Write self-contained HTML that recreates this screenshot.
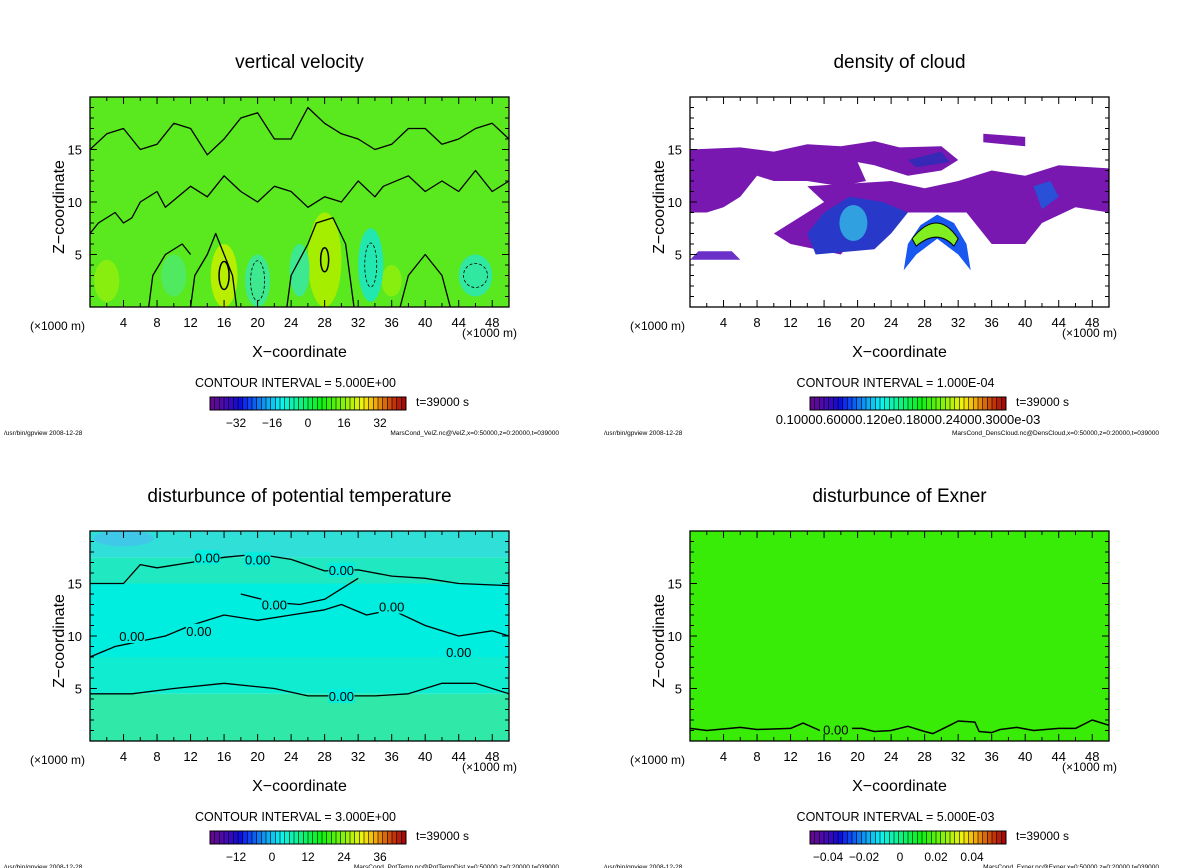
<!DOCTYPE html>
<html><head><meta charset="utf-8"><style>
html,body{margin:0;padding:0;background:#fff;}
svg{display:block;font-family:"Liberation Sans","DejaVu Sans",sans-serif;}
</style></head><body>
<svg id="fig" width="1200" height="868" viewBox="0 0 1200 868" xmlns="http://www.w3.org/2000/svg"></svg>
<script>
// ---- data ----
const xTickLabels = [4,8,12,16,20,24,28,32,36,40,44,48];
const zTickLabels = [5,10,15];
const panelTitles = ["vertical velocity","density of cloud","disturbunce of potential temperature","disturbunce of Exner"];
const contourIntervals = ["5.000E+00","1.000E-04","3.000E+00","5.000E-03"];
const cbLabelsVelZ = ["-32","-16","0","16","32"];
const cbLabelsPotT = ["-12","0","12","24","36"];
const cbLabelsExner = ["-0.04","-0.02","0","0.02","0.04"];
const footers = ["MarsCond_VelZ.nc@VelZ,x=0:50000,z=0:20000,t=039000","MarsCond_DensCloud.nc@DensCloud,x=0:50000,z=0:20000,t=039000","MarsCond_PotTemp.nc@PotTempDist,x=0:50000,z=0:20000,t=039000","MarsCond_Exner.nc@Exner,x=0:50000,z=0:20000,t=039000"];
// blobs: [x(km), z(km), rx, rz, color]
const velBlobs = [[16,3,1.6,3,"#b8ee00"],[28,4.5,2,4.5,"#a6ee00"],[2,2.5,1.5,2,"#88ee10"],[36,2.5,1.2,1.5,"#88ee10"],[20,2.5,1.5,2.5,"#3ee890"],[25,3.5,1.2,2.5,"#3ee890"],[33.5,4,1.5,3.5,"#22e8b0"],[46,3,2,2,"#30e8a0"],[10,3,1.5,2,"#50ea60"]];
const velContour1 = [[0,7],[1,8],[3,9],[4,8],[5,8.5],[6,10],[8,11],[9,9.5],[12,11.5],[14,10.5],[16,12.5],[18,11],[20,10],[22,11.5],[24,11],[26,9.5],[28,10.5],[30,10],[32,12],[34,10.5],[35,11.5],[38,12.5],[40,11],[42,12],[44,11],[46,13],[48,11],[50,12]];
const velContour2 = [[0,15],[2,16.5],[4,17],[6,15],[8,15.5],[10,17.5],[12,17],[14,14.5],[16,16],[18,18],[20,18.5],[22,16],[24,16],[26,19],[28,17.5],[30,16.5],[32,16],[34,15],[36,15.5],[38,17],[40,17],[42,15.5],[44,16],[46,17],[48,17.5],[50,16]];
const velContour3 = [[12,0],[12.5,3],[14,5],[15,7],[16,5],[17,3],[17.5,0]];
const velContour4 = [[23.5,0],[24,3],[26,6],[27,8],[29,8.5],[30.5,6],[31,3],[31.5,0]];
const velContour5 = [[7,0],[7.5,3],[9,5],[11,6],[12,5]];
const velContour6 = [[37,0],[38,3],[40,5],[42,3],[43,0]];
const cloudPurple = [[0,15],[6,15.2],[10,14.8],[14,15.5],[18,15.3],[22,15.8],[25,15.2],[30,15.3],[32,14],[30,13],[26,12.5],[22,13.5],[20,13.8],[21,12],[18,11.5],[14,12],[10,12],[8,12.5],[6,10.5],[4,9.5],[2,9],[0,9]];
const cloudPurple2 = [[14,11.5],[20,11.8],[24,12],[28,11.3],[32,12],[36,13],[40,12.5],[44,13.5],[50,13.2],[50,9],[46,9.5],[42,8],[40,6],[36,6],[33,9],[30,9],[24,9],[20,7],[18,5],[12,6],[10,7],[14,9],[16,10]];
const cloudBlue = [[16,9],[19,10.5],[23,10],[26,9],[24,7],[22,5.5],[15,5],[14,7]];
const cloudStrip = [[0,4.5],[1,5.3],[5,5.3],[6,4.5]];
const cloudTop = [[35,16.5],[40,16.2],[40,15.3],[35,15.7]];
const cloudDark = [[26,14],[30,14.8],[31,13.8],[27,13.3]];
const cloudBlob2 = [[41,11.5],[43,12],[44,10.5],[42,9.3]];
const cloudArc = [[25.5,3.5],[26,6],[27.5,7.8],[29.5,8.8],[31.5,8],[33,6],[33.5,3.5],[32,5],[29.5,6.5],[27,5]];
const ptBands = [[0,4.5,"#30e8a8"],[4.5,8,"#10ecd0"],[8,15,"#00eee0"],[15,17.5,"#20e8c0"],[17.5,20,"#30e0d8"]];
const ptContour1 = [[0,15],[4,15],[6,16.8],[8,16.5],[12,17],[16,17.5],[20,17.8],[24,17.3],[28,16.2],[32,16.3],[36,15.7],[40,15.5],[44,15],[50,14.8]];
const ptContour2 = [[0,8],[3,9],[6,9.5],[9,10],[12,11],[16,12],[20,11.5],[24,12],[28,12.5],[30,13],[33,12],[36,12.5],[40,11],[44,10],[48,10.5],[50,10]];
const ptContour3 = [[0,4.5],[5,4.5],[10,5],[16,5.5],[22,5],[26,4.3],[30,4.3],[34,4.3],[38,4.5],[42,5.5],[46,5.5],[50,4.5]];
const ptContour4 = [[18,14],[22,13.2],[25,13],[28,13.5],[32,15.5]];
const exnerContour = [[0,1.2],[2,1.0],[6,1.3],[8,1.1],[12,1.2],[13.5,1.7],[15.5,1.0],[19,1.2],[20.5,1.2],[22,0.9],[24,1.0],[26,1.4],[28,0.9],[29,0.7],[31,1.5],[32,1.9],[34,1.8],[34.5,0.9],[36,0.8],[37,1.1],[39,1.3],[41,1.0],[44,1.2],[46,1.2],[48,2.0],[50,1.5]];

const NS="http://www.w3.org/2000/svg";
const svg=document.getElementById('fig');
function el(tag,attrs,parent,text){const e=document.createElementNS(NS,tag);for(const k in attrs)e.setAttribute(k,attrs[k]);if(text!==undefined)e.textContent=text;(parent||svg).appendChild(e);return e;}

const panels=[{ox:90,oy:97},{ox:690,oy:97},{ox:90,oy:531},{ox:690,oy:531}];
const PW=419,PH=210;

function drawPanel(i){
  const p=panels[i];
  const g=el('g',{},svg);
  
  
  const sx=v=>p.ox+v/50*PW, sz=v=>p.oy+PH-v/20*PH;
  const clipId='clip'+i;
  const cp=el('clipPath',{id:clipId},g);el('rect',{x:p.ox,y:p.oy,width:PW,height:PH},cp);
  const area=el('g',{'clip-path':'url(#'+clipId+')'},g);
  
  
  const pathD=(pts,close)=>pts.map((q,k)=>(k?'L':'M')+sx(q[0]).toFixed(1)+','+sz(q[1]).toFixed(1)).join(' ')+(close?'Z':'');
  const line=(pts,w,dash)=>{const e=el('path',{d:pathD(pts),fill:'none',stroke:'#000','stroke-width':w||1.3,'stroke-linejoin':'round'},area);if(dash)e.setAttribute('stroke-dasharray',dash);return e;};
  const poly=(pts,fill,name)=>{const e=el('path',{d:pathD(pts,true),fill:fill,'stroke-linejoin':'round'},area);return e;};
  const blob=b=>{const e=el('ellipse',{cx:sx(b[0]),cy:sz(b[1]),rx:b[2]/50*PW,ry:b[3]/20*PH,fill:b[4]},area);return e;};
  if(i===0){
    el('rect',{x:p.ox,y:p.oy,width:PW,height:PH,fill:'#5ae81e'},area);
    velBlobs.forEach(blob);
    [velContour1,velContour2,velContour3,velContour4,velContour5,velContour6].forEach(c=>line(c));
    el('ellipse',{cx:sx(16),cy:sz(3),rx:5,ry:14,fill:'none',stroke:'#000','stroke-width':1.5},area);
    el('ellipse',{cx:sx(28),cy:sz(4.5),rx:4,ry:12,fill:'none',stroke:'#000','stroke-width':1.5},area);
    el('ellipse',{cx:sx(33.5),cy:sz(4),rx:6,ry:22,fill:'none',stroke:'#000','stroke-width':0.8,'stroke-dasharray':'3,2'},area);
    el('ellipse',{cx:sx(20),cy:sz(2.5),rx:7,ry:20,fill:'none',stroke:'#000','stroke-width':0.8,'stroke-dasharray':'3,2'},area);
    el('ellipse',{cx:sx(46),cy:sz(3),rx:12,ry:12,fill:'none',stroke:'#000','stroke-width':0.8,'stroke-dasharray':'3,2'},area);
  } else if(i===1){
    el('rect',{x:p.ox,y:p.oy,width:PW,height:PH,fill:'#fff'},area);
    poly(cloudPurple,'#7818b0');poly(cloudPurple2,'#7818b0');
    poly(cloudBlue,'#2838c8');poly(cloudStrip,'#6a30c8');poly(cloudTop,'#7818b0');
    poly(cloudDark,'#3828b8');poly(cloudBlob2,'#2a50d8');
    el('ellipse',{cx:sx(19.5),cy:sz(8),rx:14,ry:18,fill:'#30a0e0'},area);
    poly(cloudArc,'#1858f0','cloud-core');
    el('path',{d:'M'+sx(26.5)+','+sz(6.5)+' Q'+sx(29.5)+','+sz(9.5)+' '+sx(32)+','+sz(6.5)+' L'+sx(31.5)+','+sz(5.8)+' Q'+sx(29.5)+','+sz(7.5)+' '+sx(27)+','+sz(5.8)+'Z',fill:'#80ee20',stroke:'#000','stroke-width':1},area);
  } else if(i===2){
    ptBands.forEach(b=>{const e=el('rect',{x:p.ox,y:sz(b[1]),width:PW,height:sz(b[0])-sz(b[1]),fill:b[2]},area);});
    el('ellipse',{cx:sx(4),cy:sz(19.3),rx:30,ry:8,fill:'#40c8e8'},area);
    line(ptContour1);line(ptContour2);line(ptContour3);line(ptContour4);
    [[14,17.5],[20,17.3],[30,16.3],[22,13],[13,10.5],[5,10],[36,12.8],[44,8.5],[30,4.3]].forEach(q=>{
      el('rect',{x:sx(q[0])-13,y:sz(q[1])-7,width:26,height:14,fill:'#00eee0'},area);
      el('text',{x:sx(q[0]),y:sz(q[1])+5,'font-size':13,fill:'#000','text-anchor':'middle'},area,'0.00');});
  } else {
    el('rect',{x:p.ox,y:p.oy,width:PW,height:PH,fill:'#38ec08'},area);
    line(exnerContour,1.5);
    el('rect',{x:sx(15.5),y:sz(1.1)-7,width:32,height:14,fill:'#38ec08'},area);
    el('text',{x:sx(17.4),y:sz(1.1)+5,'font-size':13,'text-anchor':'middle'},area,'0.00');
  }
  el('rect',{x:p.ox,y:p.oy,width:PW,height:PH,fill:'none',stroke:'#000','stroke-width':1.3},g);
  for(let v=2;v<50;v+=2){const L=(v%4===0)?7:4;
    el('line',{x1:sx(v),y1:p.oy+PH,x2:sx(v),y2:p.oy+PH-L,stroke:'#000'},g);
    el('line',{x1:sx(v),y1:p.oy,x2:sx(v),y2:p.oy+L,stroke:'#000'},g);}
  for(let v=1;v<20;v++){const L=(v%5===0)?7:4;
    el('line',{x1:p.ox,y1:sz(v),x2:p.ox+L,y2:sz(v),stroke:'#000'},g);
    el('line',{x1:p.ox+PW,y1:sz(v),x2:p.ox+PW-L,y2:sz(v),stroke:'#000'},g);}
  xTickLabels.forEach(v=>{const t=el('text',{x:sx(v),y:p.oy+PH+20,'font-size':13,'text-anchor':'middle'},g,String(v));});
  zTickLabels.forEach(v=>{const t=el('text',{x:p.ox-8,y:sz(v)+5,'font-size':13,'text-anchor':'end'},g,String(v));});
  const u1=el('text',{x:p.ox-60,y:p.oy+PH+23,'font-size':12},g,'(\u00d71000 m)');
  const u2=el('text',{x:p.ox+PW+8,y:p.oy+PH+30,'font-size':12,'text-anchor':'end'},g,'(\u00d71000 m)');
  const xt=el('text',{x:p.ox+PW/2,y:p.oy+PH+50,'font-size':16,'text-anchor':'middle'},g,'X\u2212coordinate');
  const zt=el('text',{x:0,y:0,'font-size':16,'text-anchor':'middle',transform:'translate('+(p.ox-26)+','+(p.oy+PH/2+5)+') rotate(-90)'},g,'Z\u2212coordinate');
  const ti=el('text',{x:p.ox+PW/2,y:p.oy-29,'font-size':19,'text-anchor':'middle'},g,panelTitles[i]);
  const ci=el('text',{x:p.ox+PW/2-4,y:p.oy+PH+80,'font-size':12.5,'text-anchor':'middle'},g,'CONTOUR INTERVAL = '+contourIntervals[i]);
  const cbx=p.ox+120,cby=p.oy+PH+90,cbw=196,cbh=13,n=42;
  const cb=el('g',{},g);
  for(let k=0;k<n;k++){const f=k/(n-1);const h=280-f*280;const l=(f<0.15)?30+f*100:(f>0.85?50-(f-0.85)*100:50);
    el('rect',{x:cbx+k*cbw/n,y:cby,width:cbw/n+0.3,height:cbh,fill:'hsl('+h+',90%,'+l+'%)'},cb);
    el('line',{x1:cbx+k*cbw/n,y1:cby,x2:cbx+k*cbw/n,y2:cby+cbh,stroke:'#000','stroke-width':0.6},cb);}
  el('rect',{x:cbx,y:cby,width:cbw,height:cbh,fill:'none',stroke:'#000'},cb);
  let labs=[cbLabelsVelZ,null,cbLabelsPotT,cbLabelsExner][i];
  if(labs){labs.forEach((s,k)=>{el('text',{x:cbx+26+k*(cbw-52)/4+(i===3?-8:0),y:cby+30,'font-size':12,'text-anchor':'middle'},cb,s.replace('-','\u2212'));});}
  else{el('text',{x:cbx+98,y:cby+27,'font-size':13,'text-anchor':'middle'},cb,'0.10000.60000.120e0.18000.24000.3000e-03');}
  const t=el('text',{x:p.ox+326,y:cby+9,'font-size':12},g,'t=39000 s');
  const f1=el('text',{x:p.ox-86,y:cby+38,'font-size':6.5},g,'/usr/bin/gpview   2008-12-28');
  const f2=el('text',{x:p.ox+PW+50,y:cby+38,'font-size':6.5,'text-anchor':'end'},g,footers[i]);
}
for(let i=0;i<4;i++)drawPanel(i);
</script>
</body></html>
